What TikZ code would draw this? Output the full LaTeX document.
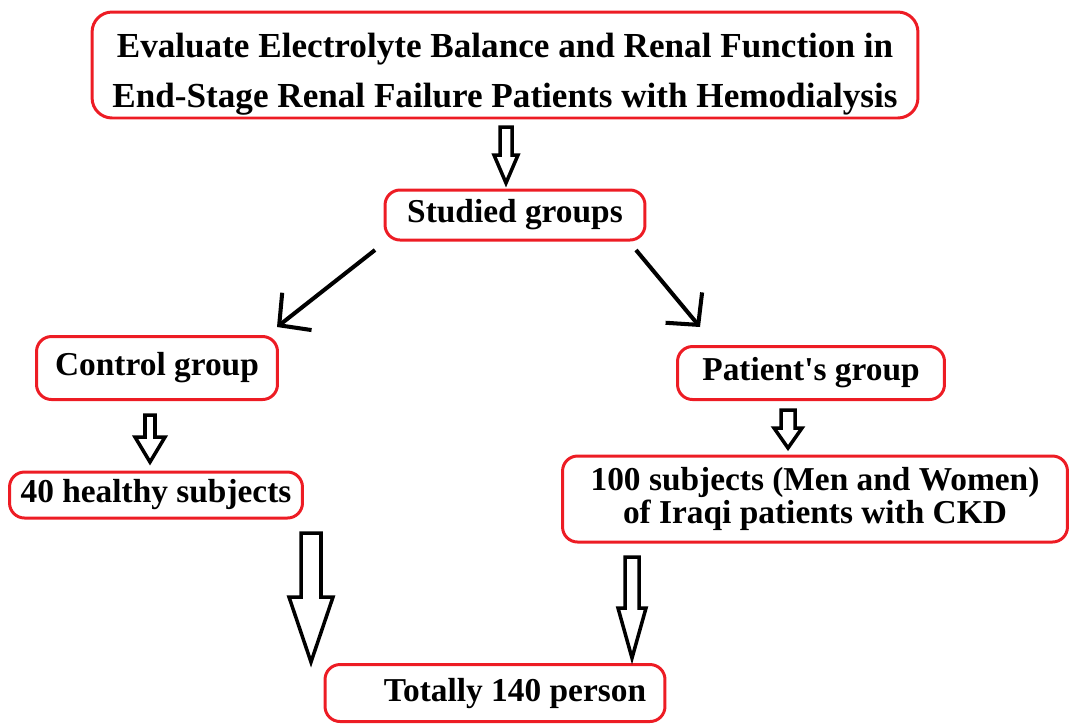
\documentclass[tikz,border=0pt]{standalone}
\usepackage{fontspec}
\setmainfont{Liberation Serif}
\usetikzlibrary{arrows.meta, calc, positioning}
\definecolor{boxred}{RGB}{237,28,36}
% outlined block arrow pointing down, from #1 to #2
\newcommand{\hollowarrow}[5]{%
  \draw[hollow] let \p1=(#1), \p2=(#2) in
    (\x1-#3,\y1) -- (\x1+#3,\y1) -- (\x1+#3,\y2+#5) -- (\x1+#4,\y2+#5)
    -- (\x1,\y2) -- (\x1-#4,\y2+#5) -- (\x1-#3,\y2+#5) -- cycle;}

\begin{document}
\begin{tikzpicture}[x=0.02cm, y=-0.02cm,
    box/.style={rectangle, draw=boxred, line width=1.7pt, rounded corners=0.3cm, inner sep=0pt,
      font=\fontsize{19}{19}\selectfont\bfseries, align=center},
    hollow/.style={draw=black, line width=2pt, line join=miter},
    link/.style={draw=black, line width=2.3pt, -{Straight Barb[length=0.45cm, width=0.95cm]}}]
    \useasboundingbox (0,0) rectangle (1070,725);

    \node[box, rounded corners=0.4cm, minimum width=16.52cm, minimum height=2.12cm,
      font=\fontsize{20}{28.5}\selectfont\bfseries] (eval) at (505,65)
      {\rule{0pt}{24pt}Evaluate Electrolyte Balance and Renal Function in\\
       End-Stage Renal Failure Patients with Hemodialysis};
    \node[box, minimum width=5.2cm, minimum height=1cm] (groups) at (515,215) {Studied groups};
    \node[box, minimum width=4.82cm, minimum height=1.26cm] (ctrl) at (157,368) {Control group};
    \node[box, minimum width=5.34cm, minimum height=1.06cm] (pat) at (811,373) {Patient\textquotesingle s group};
    \node[box, minimum width=5.86cm, minimum height=0.92cm] (ctrl40) at (156,495) {40 healthy subjects};
    \node[box, minimum width=10.1cm, minimum height=1.72cm] (pat100) at (815,499)
      {100 subjects (Men and Women)\\ of Iraqi patients with CKD};
    \node[box, minimum width=6.8cm, minimum height=1.14cm] (total) at (495,693)
      {\hspace*{0.8cm}Totally 140 person};

    % ends of the connectors
    \coordinate (a1) at (506,127);  \coordinate (b1) at (506,183);
    \coordinate (a2) at (150,415);  \coordinate (b2) at (150,462);
    \coordinate (a3) at (788,410);  \coordinate (b3) at (788,448);
    \coordinate (a4) at (311,533);  \coordinate (b4) at (311,662);
    \coordinate (a5) at (632,557);  \coordinate (b5) at (632,658);
    \coordinate (l0) at (375,250);  \coordinate (l1) at (277,327);
    \coordinate (r0) at (636,250);  \coordinate (r1) at (700,327);

    \hollowarrow{a1}{b1}{0.12cm}{0.24cm}{0.56cm}
    \hollowarrow{a2}{b2}{0.1cm}{0.3cm}{0.5cm}
    \hollowarrow{a3}{b3}{0.14cm}{0.28cm}{0.4cm}
    \hollowarrow{a4}{b4}{0.2cm}{0.44cm}{1.3cm}
    \hollowarrow{a5}{b5}{0.14cm}{0.28cm}{1cm}

    \draw[link] (l0) -- (l1);
    \draw[link] (r0) -- (r1);
\end{tikzpicture}
\end{document}
